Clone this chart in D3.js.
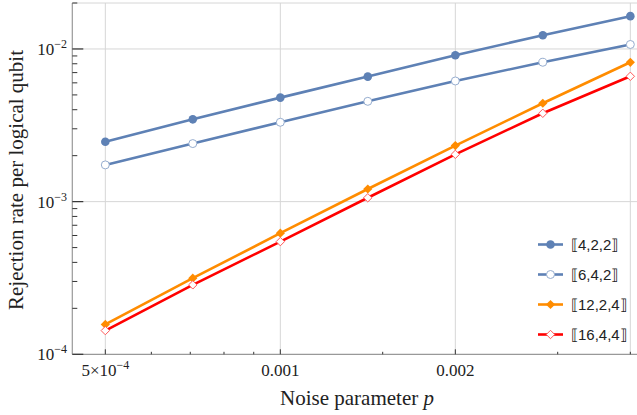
<!DOCTYPE html>
<html>
<head>
<meta charset="utf-8">
<script src="https://cdn.jsdelivr.net/npm/d3@7"></script>
<style>
  body { margin: 0; background: #fff; }
  svg { display: block; }
</style>
</head>
<body>
<div id="chart"></div>
<script>
// noise parameter values (x)
const pValues = [5e-4, 7.07e-4, 1e-3, 1.414e-3, 2e-3, 2.828e-3, 4e-3];

// rejection rate per logical qubit for each code
const codeNames = ['\u27E64,2,2\u27E7', '\u27E66,4,2\u27E7', '\u27E612,2,4\u27E7', '\u27E616,4,4\u27E7'];
const rate422 = [2.47e-3, 3.46e-3, 4.80e-3, 6.59e-3, 9.1e-3, 1.23e-2, 1.64e-2];
const rate642 = [1.74e-3, 2.40e-3, 3.31e-3, 4.54e-3, 6.17e-3, 8.18e-3, 1.07e-2];
const rate1224 = [1.57e-4, 3.15e-4, 6.21e-4, 1.21e-3, 2.33e-3, 4.41e-3, 8.18e-3];
const rate1644 = [1.43e-4, 2.85e-4, 5.47e-4, 1.06e-3, 2.04e-3, 3.79e-3, 6.62e-3];

// ticks
const xMajorTicks = [5e-4, 1e-3, 2e-3];
const xMajorLabels = [['5\u00D710', '\u22124'], ['0.001', ''], ['0.002', '']];
const xMinorTicks = [6e-4, 7e-4, 8e-4, 9e-4, 1.5e-3, 3e-3, 4e-3];
const xGrid = [5e-4, 1e-3, 2e-3, 4e-3];
const yMajorTicks = [1e-4, 1e-3, 1e-2];
const yMajorLabels = ['\u22124', '\u22123', '\u22122'];
const yGrid = [1e-3, 1e-2, 2e-2];

let width = 637;
let height = 415;

const series = [
    {name: codeNames[0], values: rate422, color: '#5e81b5', marker: 'circle', filled: true},
    {name: codeNames[1], values: rate642, color: '#5e81b5', marker: 'circle', filled: false},
    {name: codeNames[2], values: rate1224, color: '#ff8c00', marker: 'diamond', filled: true},
    {name: codeNames[3], values: rate1644, color: '#ff0000', marker: 'diamond', filled: false}
];

const svg = d3.select('#chart')
    .append('svg')
    .attr('width', width)
    .attr('height', height)

// log scales, plot area from x=72.3 to the right edge
let x = d3.scaleLog().domain([4.387e-4, 4.107e-3]).range([72.3, 637]);
let y = d3.scaleLog().domain([1e-4, 2e-2]).range([354.3, 3]);

const serif = 'Liberation Serif, Times New Roman, serif';

// grid lines
svg.selectAll('.xgrid')
    .data(xGrid)
    .enter()
    .append('line')
    .attr('x1', d => x(d)).attr('x2', d => x(d))
    .attr('y1', y(2e-2)).attr('y2', y(1e-4))
    .attr('stroke', '#d6d6d6')
    .attr('stroke-width', 1)

svg.selectAll('.ygrid')
    .data(yGrid)
    .enter()
    .append('line')
    .attr('x1', x.range()[0]).attr('x2', width)
    .attr('y1', d => y(d)).attr('y2', d => y(d))
    .attr('stroke', '#d6d6d6')
    .attr('stroke-width', 1)

// frame (left and bottom)
svg.append('line')
    .attr('x1', x.range()[0]).attr('x2', x.range()[0])
    .attr('y1', y.range()[1]).attr('y2', y.range()[0])
    .attr('stroke', '#999')
    .attr('stroke-width', 1.2)

svg.append('line')
    .attr('x1', x.range()[0]).attr('x2', width)
    .attr('y1', y.range()[0]).attr('y2', y.range()[0])
    .attr('stroke', '#999')
    .attr('stroke-width', 1.2)

// x ticks
svg.selectAll('.xmajor')
    .data(xMajorTicks)
    .enter()
    .append('line')
    .attr('x1', d => x(d)).attr('x2', d => x(d))
    .attr('y1', y.range()[0]).attr('y2', y.range()[0] - 5)
    .attr('stroke', '#333')

svg.selectAll('.xminor')
    .data(xMinorTicks)
    .enter()
    .append('line')
    .attr('x1', d => x(d)).attr('x2', d => x(d))
    .attr('y1', y.range()[0]).attr('y2', y.range()[0] - 2.5)
    .attr('stroke', '#333')

let xLabels = svg.selectAll('.xlabel')
    .data(xMajorTicks)
    .enter()
    .append('text')
    .attr('x', d => x(d))
    .attr('y', 376)
    .attr('text-anchor', 'middle')
    .attr('font-family', serif)
    .attr('font-size', 17)
    .attr('fill', '#222')

xLabels.append('tspan').text((d, i) => xMajorLabels[i][0])
xLabels.append('tspan')
    .attr('dy', -7)
    .attr('font-size', 12)
    .text((d, i) => xMajorLabels[i][1])

// y ticks: majors at decades, minors at 2..9
let yMinorTicks = [];
[1e-4, 1e-3, 1e-2].forEach(dec => {
    for (let k = 2; k <= 9; k++) {
        if (dec * k <= 2e-2) yMinorTicks.push(dec * k);
    }
});

svg.selectAll('.ymajor')
    .data(yMajorTicks)
    .enter()
    .append('line')
    .attr('x1', x.range()[0]).attr('x2', x.range()[0] + 11)
    .attr('y1', d => y(d)).attr('y2', d => y(d))
    .attr('stroke', '#333')
    .attr('stroke-width', 1.2)

svg.selectAll('.yminor')
    .data(yMinorTicks)
    .enter()
    .append('line')
    .attr('x1', x.range()[0]).attr('x2', x.range()[0] + 5)
    .attr('y1', d => y(d)).attr('y2', d => y(d))
    .attr('stroke', '#333')

let yLabels = svg.selectAll('.ylabel')
    .data(yMajorTicks)
    .enter()
    .append('text')
    .attr('x', 67)
    .attr('y', d => y(d) + 6)
    .attr('text-anchor', 'end')
    .attr('font-family', serif)
    .attr('font-size', 17)
    .attr('fill', '#222')

yLabels.append('tspan').text('10')
yLabels.append('tspan')
    .attr('dy', -7)
    .attr('font-size', 12)
    .text((d, i) => yMajorLabels[i])

// axis titles
let xTitle = svg.append('text')
    .attr('x', 357)
    .attr('y', 405)
    .attr('text-anchor', 'middle')
    .attr('font-family', serif)
    .attr('font-size', 21)
    .attr('fill', '#222')
xTitle.append('tspan').text('Noise parameter ')
xTitle.append('tspan').attr('font-style', 'italic').text('p')

svg.append('text')
    .attr('transform', 'translate(23, 180) rotate(-90)')
    .attr('text-anchor', 'middle')
    .attr('font-family', serif)
    .attr('font-size', 21)
    .attr('fill', '#222')
    .text('Rejection rate per logical qubit')

// lines and markers
let line = d3.line()
    .x((d, i) => x(pValues[i]))
    .y(d => y(d))

function drawMarker(g, s, cx, cy) {
    if (s.marker === 'circle') {
        g.append('circle')
            .attr('cx', cx).attr('cy', cy)
            .attr('r', s.filled ? 4.3 : 4)
            .attr('fill', s.filled ? s.color : '#fff')
            .attr('stroke', s.filled ? 'none' : d3.interpolateRgb(s.color, '#fff')(0.35))
            .attr('stroke-width', 1)
    } else {
        let r = s.filled ? 4.6 : 4.2;
        g.append('path')
            .attr('d', `M${cx},${cy - r}L${cx + r},${cy}L${cx},${cy + r}L${cx - r},${cy}Z`)
            .attr('fill', s.filled ? s.color : '#fff')
            .attr('stroke', s.filled ? 'none' : d3.interpolateRgb(s.color, '#fff')(0.35))
            .attr('stroke-width', 1)
    }
}

series.forEach(s => {
    svg.append('path')
        .datum(s.values)
        .attr('d', line)
        .attr('fill', 'none')
        .attr('stroke', s.color)
        .attr('stroke-width', 2.6)

    let g = svg.append('g');
    s.values.forEach((v, i) => drawMarker(g, s, x(pValues[i]), y(v)));
})

// legend
let legend = svg.append('g')
series.forEach((s, i) => {
    let ly = 244.5 + i * 30;
    legend.append('line')
        .attr('x1', 538).attr('x2', 563)
        .attr('y1', ly).attr('y2', ly)
        .attr('stroke', s.color)
        .attr('stroke-width', 2.6)
    drawMarker(legend, s, 550.5, ly);
    legend.append('text')
        .attr('x', 571)
        .attr('y', ly + 5.5)
        .attr('font-family', 'Liberation Sans, Arial, sans-serif')
        .attr('font-size', 15)
        .attr('fill', '#222')
        .text(s.name)
})
</script>
</body>
</html>
